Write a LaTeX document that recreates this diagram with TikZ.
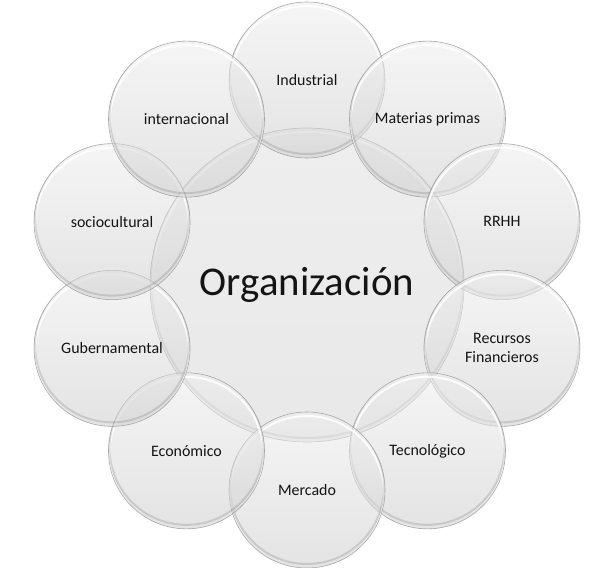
\documentclass[tikz,border=0pt]{standalone}
\usepackage{fontspec}
\setmainfont{Carlito}
\newcommand{\ringradius}{205bp}
\newcommand{\bubbleradius}{78bp}
\newcommand{\coreradius}{157bp}
\definecolor{bubbletop}{RGB}{238,238,238}
\definecolor{bubblebottom}{RGB}{206,206,206}
\definecolor{coretop}{RGB}{226,226,226}
\definecolor{corebottom}{RGB}{214,214,214}
\definecolor{bubbleedge}{RGB}{150,150,150}
\definecolor{labeltext}{RGB}{20,20,20}
\tikzstyle{bubble} = [% outer circle: one factor around the organisation
  circle,
  minimum size=2*\bubbleradius,
  inner sep=0pt,
  align=center,
  font=\fontsize{16}{19}\selectfont,
  text=labeltext,
  draw=bubbleedge,
  line width=0.6pt,
  top color=bubbletop,
  bottom color=bubblebottom,
  fill opacity=0.55,
  draw opacity=0.8,
  text opacity=1,
  path picture={% glossy rim on top, shade on the bottom
    \draw[white, line width=2pt, opacity=0.9]
      ([yshift=-3bp]path picture bounding box.center) circle (\bubbleradius-1bp);
    \draw[black, line width=2pt, opacity=0.12]
      ([yshift=3bp]path picture bounding box.center) circle (\bubbleradius-1bp);
  }
  ]
\tikzstyle{core} = [% central circle
  bubble,
  minimum size=2*\coreradius,
  font=\fontsize{41}{49}\selectfont,
  top color=coretop,
  bottom color=corebottom,
  path picture={%
    \draw[white, line width=2pt, opacity=0.9]
      ([yshift=-3bp]path picture bounding box.center) circle (\coreradius-1bp);
    \draw[black, line width=2pt, opacity=0.12]
      ([yshift=3bp]path picture bounding box.center) circle (\coreradius-1bp);
  }
  ]

\begin{document}
\begin{tikzpicture}

\useasboundingbox (-307bp,-283bp) rectangle (288bp,285bp);
\fill[white] (-307bp,-283bp) rectangle (288bp,285bp);

%%% Nodes
\node[core] (organizacion) at (0,0) {Organización};

\node[bubble] (industrial) at (90:\ringradius) {Industrial};
\node[bubble] (materias) at (54:\ringradius) {Materias primas};
\node[bubble] (rrhh) at (18:\ringradius) {RRHH};
\node[bubble] (recursos) at (-18:\ringradius) {Recursos\\Financieros};
\node[bubble] (tecnologico) at (-54:\ringradius) {Tecnológico};
\node[bubble] (mercado) at (-90:\ringradius) {Mercado};
\node[bubble] (economico) at (-126:\ringradius) {Económico};
\node[bubble] (gubernamental) at (-162:\ringradius) {Gubernamental};
\node[bubble] (sociocultural) at (162:\ringradius) {sociocultural};
\node[bubble] (internacional) at (126:\ringradius) {internacional};

\end{tikzpicture}
\end{document}
